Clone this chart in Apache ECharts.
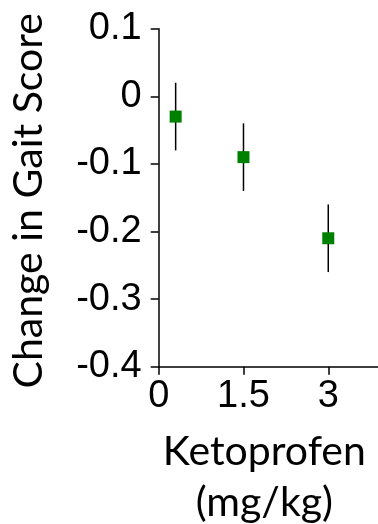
<!DOCTYPE html>
<html><head><meta charset="utf-8">
<script src="https://cdn.jsdelivr.net/npm/echarts@6/dist/echarts.min.js"></script>
<style>html,body{margin:0;padding:0;background:#fff}#c{width:378px;height:524px}</style>
</head><body><div id="c"></div>
<script>
var doses = [0.3, 1.5, 3];
var means = [-0.03, -0.09, -0.21];
var errs = [0.05, 0.05, 0.05];
var xTicks = [0, 1.5, 3];
var yTicks = [-0.4, -0.3, -0.2, -0.1, 0, 0.1];

var chart = echarts.init(document.getElementById('c'), null, {renderer: 'canvas'});
var pts = doses.map(function (d, i) { return [d, means[i]]; });
var bars = doses.map(function (d, i) { return [d, means[i] - errs[i], means[i] + errs[i]]; });
var tickFont = "'Liberation Sans', Arial, sans-serif";
chart.setOption({
  animation: false,
  grid: {left: 158.7, top: 28.7, bottom: 157.3, right: 0, containLabel: false, outerBoundsMode: 'none'},
  xAxis: {
    type: 'value', min: 0, max: 3.88,
    name: 'Ketoprofen\n(mg/kg)', nameLocation: 'middle', nameGap: 60,
    nameTextStyle: {fontFamily: 'Lato', fontSize: 41, color: '#000', lineHeight: 51, padding: [0, 8, 0, 0]},
    axisLine: {onZero: false, lineStyle: {color: '#000', width: 1.5}},
    axisTick: {show: true, length: 8, inside: false, customValues: xTicks, lineStyle: {color: '#000', width: 1.5}},
    axisLabel: {customValues: xTicks, margin: 11, fontFamily: tickFont, fontSize: 38, color: '#000',
      formatter: function (v) { return String(v); }},
    splitLine: {show: false}
  },
  yAxis: {
    type: 'value', min: -0.4, max: 0.1, interval: 0.1,
    name: 'Change in Gait Score', nameLocation: 'middle', nameGap: 109, nameRotate: 90,
    nameTextStyle: {fontFamily: 'Lato', fontSize: 41, color: '#000', padding: [0, 6, 0, 0]},
    axisLine: {show: true, onZero: false, lineStyle: {color: '#000', width: 1.5}},
    axisTick: {show: true, length: 8, lineStyle: {color: '#000', width: 1.5}},
    axisLabel: {margin: 17, fontFamily: tickFont, fontSize: 38, color: '#000',
      formatter: function (v) { return String(Math.round(v * 10) / 10); }},
    splitLine: {show: false}
  },
  series: [
    {
      type: 'custom', data: bars, z: 1,
      renderItem: function (params, api) {
        var p1 = api.coord([api.value(0), api.value(1)]);
        var p2 = api.coord([api.value(0), api.value(2)]);
        return {type: 'line', shape: {x1: p1[0], y1: p1[1], x2: p2[0], y2: p2[1]},
          style: {stroke: '#000', lineWidth: 1.5}};
      }
    },
    {
      type: 'scatter', data: pts, symbol: 'rect', symbolSize: 12, z: 3,
      itemStyle: {color: '#008000', opacity: 1}
    }
  ]
});
</script></body></html>
